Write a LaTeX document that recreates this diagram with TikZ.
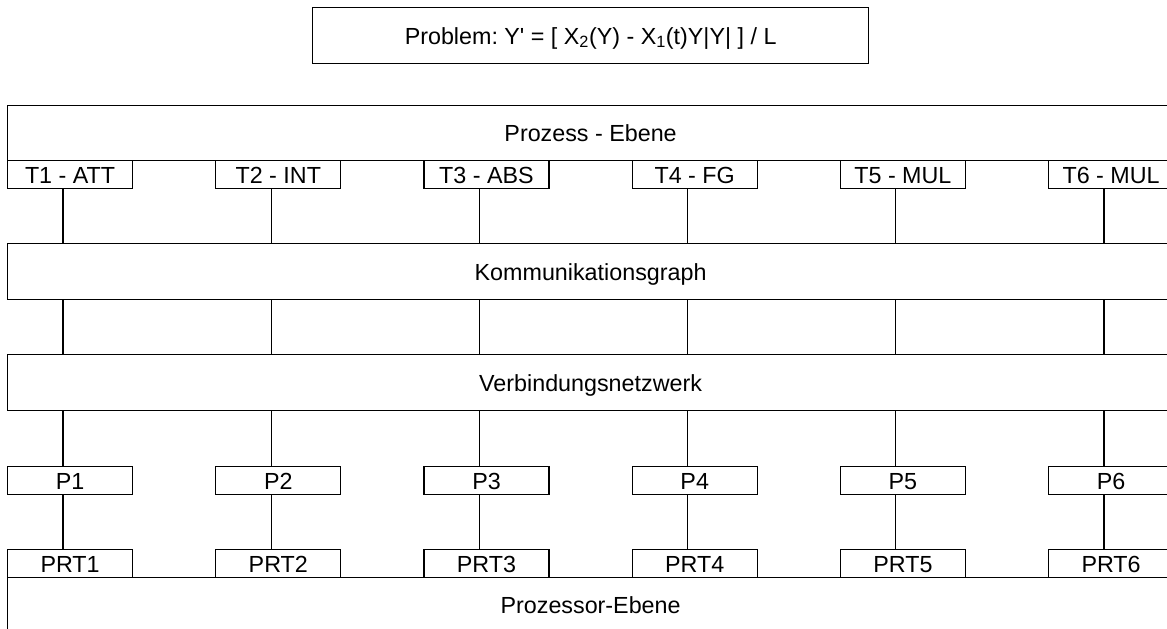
\documentclass[tikz,border=0pt]{standalone}
\usepackage{fontspec}
\setmainfont{Liberation Sans}
\usetikzlibrary{positioning}

\begin{document}
\frenchspacing
\begin{tikzpicture}[x=1pt, y=-1pt,
    font=\fontsize{23.3pt}{28pt}\selectfont,
    layer/.style={draw, line width=1.2pt, anchor=north west, inner sep=0pt,
                  minimum width=1166pt, text height=17pt, text depth=0pt},
    unit/.style={draw, fill=white, line width=1.2pt, anchor=north west, inner sep=0pt,
                 minimum width=125pt, minimum height=28pt, text height=17pt, text depth=0pt},
    link/.style={line width=1.2pt}]
  \useasboundingbox (0,0) rectangle (1167,629);
  \clip (0,0) rectangle (1167,629);

  % equation on top
  \node[draw, line width=1.2pt, anchor=north west, inner sep=0pt,
        minimum width=556pt, minimum height=56pt, text height=17pt, text depth=0pt]
    (problem) at (312,7)
    {Problem: Y\textquotesingle{} = [ X\textsubscript{2}(Y) - X\textsubscript{1}(t)Y|Y| ] / L};

  % the four layers
  \node[layer, minimum height=55pt] (prozess) at (7,105) {Prozess - Ebene};
  \node[layer, minimum height=56pt] (komm) at (7,243) {Kommunikationsgraph};
  \node[layer, minimum height=56pt] (verb) at (7,354) {Verbindungsnetzwerk};
  \node[layer, minimum height=55pt] (prozessor) at (7,577) {Prozessor-Ebene};

  % one column per task / processor
  \foreach \i/\task in {1/T1 - ATT, 2/T2 - INT, 3/T3 - ABS, 4/T4 - FG, 5/T5 - MUL, 6/T6 - MUL} {
    \node[unit] (t\i) at ({7+(\i-1)*208.2}, 160) {\task};
    \node[unit] (p\i) at ({7+(\i-1)*208.2}, 466) {P\i};
    \node[unit] (prt\i) at ({7+(\i-1)*208.2}, 549) {PRT\i};
    \coordinate (col\i) at ({63+(\i-1)*208.2}, 0);
    \draw[link] (t\i.south -| col\i) -- (komm.north -| col\i);
    \draw[link] (komm.south -| col\i) -- (verb.north -| col\i);
    \draw[link] (verb.south -| col\i) -- (p\i.north -| col\i);
    \draw[link] (p\i.south -| col\i) -- (prt\i.north -| col\i);
  }
\end{tikzpicture}
\end{document}
